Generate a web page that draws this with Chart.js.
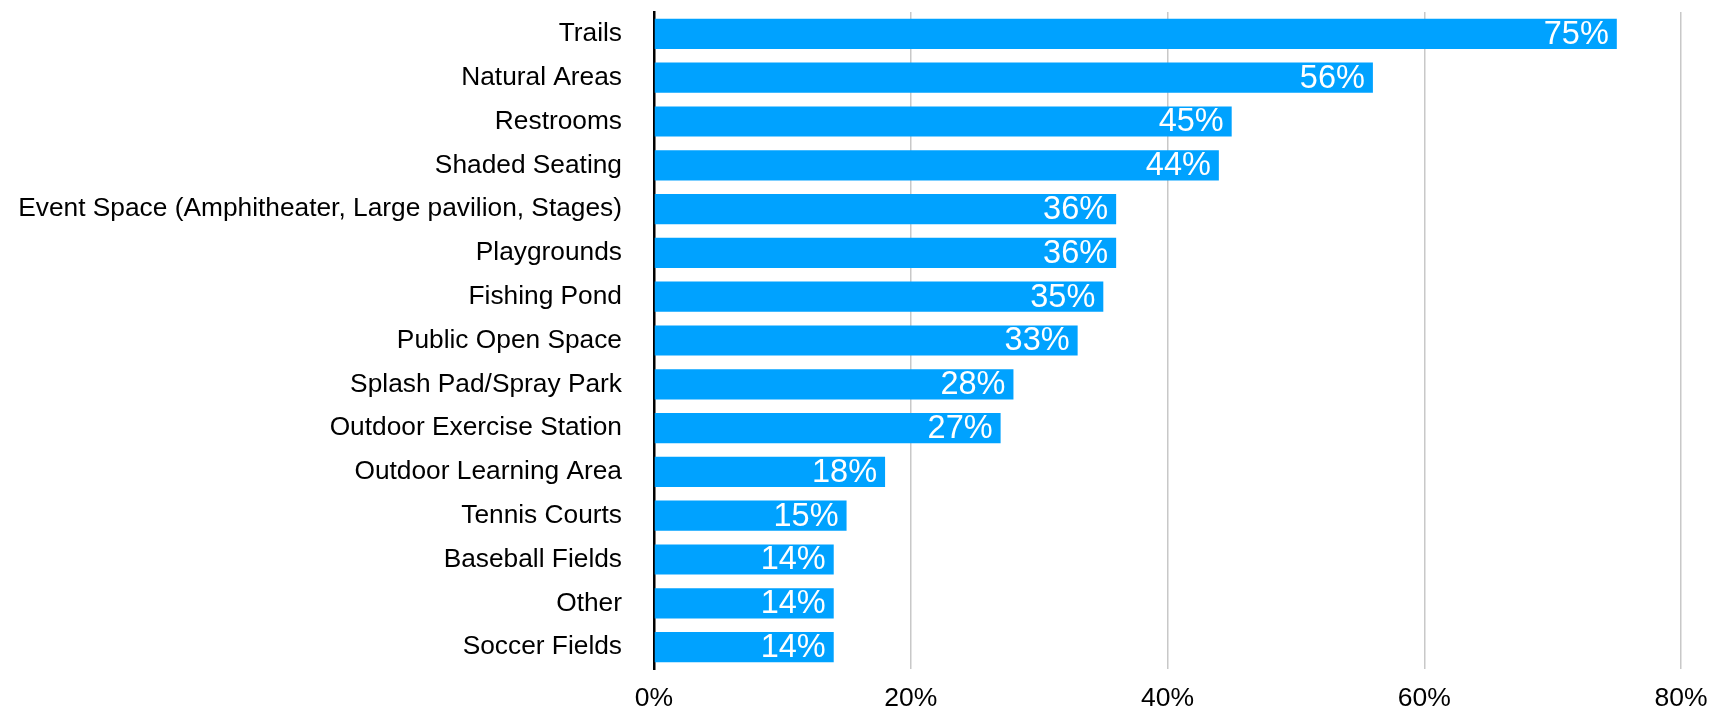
<!DOCTYPE html>
<html>
<head>
<meta charset="utf-8">
<script src="https://cdn.jsdelivr.net/npm/chart.js@4/dist/chart.umd.min.js"></script>
<style>
  html, body { margin: 0; padding: 0; background: #ffffff; }
  #wrap { width: 1714px; height: 716px; position: relative; }
</style>
</head>
<body>
<div id="wrap"><canvas id="chart" width="1714" height="716"></canvas></div>
<script>
// Amenity categories, top to bottom
const categories = [
  'Trails',
  'Natural Areas',
  'Restrooms',
  'Shaded Seating',
  'Event Space (Amphitheater, Large pavilion, Stages)',
  'Playgrounds',
  'Fishing Pond',
  'Public Open Space',
  'Splash Pad/Spray Park',
  'Outdoor Exercise Station',
  'Outdoor Learning Area',
  'Tennis Courts',
  'Baseball Fields',
  'Other',
  'Soccer Fields'
];

// Share of respondents selecting each amenity (%)
const shares = [75, 56, 45, 44, 36, 36, 35, 33, 28, 27, 18, 15, 14, 14, 14];

// Value axis ticks (%)
const xTicks = [0, 20, 40, 60, 80];

const FONT_FAMILY = "'Liberation Sans', Arial, Helvetica, sans-serif";

// White value labels drawn inside the right end of each bar
const barValueLabels = {
  id: 'barValueLabels',
  afterDatasetsDraw(chart) {
    const ctx = chart.ctx;
    const meta = chart.getDatasetMeta(0);
    const values = chart.data.datasets[0].data;
    ctx.save();
    ctx.fillStyle = '#ffffff';
    ctx.font = '32.5px ' + FONT_FAMILY;
    ctx.textAlign = 'right';
    ctx.textBaseline = 'middle';
    meta.data.forEach((bar, i) => {
      ctx.fillText(values[i] + '%', bar.x - 8, bar.y + 1);
    });
    ctx.restore();
  }
};

new Chart(document.getElementById('chart'), {
  type: 'bar',
  data: {
    labels: categories,
    datasets: [{
      data: shares,
      backgroundColor: '#00A2FF',
      borderWidth: 0,
      barPercentage: 0.69,
      categoryPercentage: 1
    }]
  },
  options: {
    indexAxis: 'y',
    responsive: false,
    animation: false,
    layout: { padding: { top: 12, right: 33, bottom: 0, left: 0 } },
    plugins: {
      legend: { display: false },
      tooltip: { enabled: false }
    },
    scales: {
      x: {
        min: 0,
        max: 80,
        afterBuildTicks(scale) {
          scale.ticks = xTicks.map(v => ({ value: v }));
        },
        afterFit(scale) {
          scale.height = 47;
          scale.paddingLeft = 0;
          scale.paddingRight = 0;
        },
        grid: {
          color: '#c8c8c8',
          lineWidth: 1.5,
          drawTicks: false
        },
        border: { display: false },
        ticks: {
          padding: 14,
          color: '#000000',
          font: { family: FONT_FAMILY, size: 26.5 },
          callback: v => v + '%'
        }
      },
      y: {
        afterFit(scale) {
          scale.width = 654;
          scale.paddingTop = 0;
          scale.paddingBottom = 0;
        },
        grid: { display: false, drawTicks: false },
        border: { display: true, color: '#000000', width: 2.5 },
        ticks: {
          padding: 32,
          color: '#000000',
          font: { family: FONT_FAMILY, size: 26.3 }
        }
      }
    }
  },
  plugins: [barValueLabels]
});
</script>
</body>
</html>
